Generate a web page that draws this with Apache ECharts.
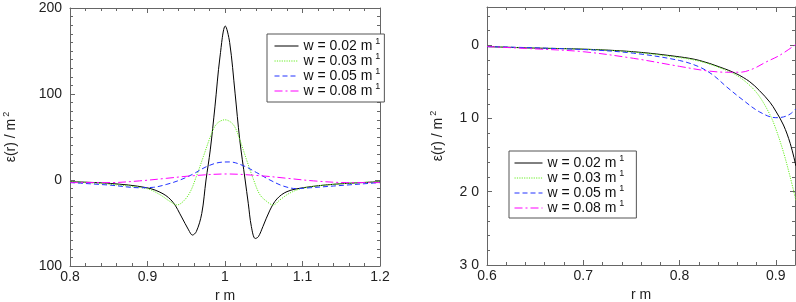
<!DOCTYPE html>
<html><head><meta charset="utf-8">
<script src="https://cdn.jsdelivr.net/npm/echarts@6/dist/echarts.min.js"></script>
<style>html,body{margin:0;padding:0;background:#fff}#c{width:796px;height:302px}</style>
</head><body><div id="c"></div>
<script>
// ---- data ----
var seriesNames = ['w = 0.02 m', 'w = 0.03 m', 'w = 0.05 m', 'w = 0.08 m'];
var leftYTicks = ['100', '0', '100', '200'];
var rightYTicks = ['3 0', '2 0', '1 0', '0'];

var leftW02 = [[0.8,-2],[0.852,-4],[0.899,-9],[0.92,-16],[0.933,-26],[0.944,-43],[0.953,-58],[0.958,-64],[0.963,-60],[0.970,-39],[0.9755,0],[0.981,35],[0.987,85],[0.9935,143],[1.0004,179],[1.006,160],[1.013,101],[1.019,47],[1.026,0],[1.030,-27],[1.034,-54],[1.039,-68],[1.043,-66],[1.049,-54],[1.058,-35],[1.067,-22],[1.080,-13.5],[1.101,-9],[1.140,-5],[1.2,-2]];
var leftW03 = [[0.8,-2],[0.852,-5],[0.899,-10],[0.916,-17],[0.929,-25],[0.938,-29],[0.946,-25],[0.955,-14],[0.963,4],[0.972,27],[0.981,50],[0.989,65],[1.0,70],[1.011,64],[1.019,47],[1.028,23],[1.037,0],[1.045,-17],[1.054,-25],[1.062,-29],[1.071,-23],[1.084,-15],[1.101,-9.5],[1.14,-5],[1.2,-2]];
var leftW05 = [[0.8,-3],[0.852,-6],[0.890,-9],[0.9075,-8.5],[0.925,-5],[0.942,0],[0.959,7],[0.976,15.5],[0.9935,20.5],[1.006,21],[1.024,16.5],[1.041,8.5],[1.058,0],[1.075,-7],[1.092,-10],[1.110,-9],[1.14,-7],[1.2,-3]];
var leftW08 = [[0.8,-3],[0.852,-3],[0.89,-1],[0.925,2],[0.959,5],[1.002,7],[1.045,5],[1.080,2],[1.114,-1],[1.157,-3],[1.2,-3]];

var rightW02 = [[0.6,-0.2],[0.648,-0.4],[0.7,-0.55],[0.752,-0.9],[0.8,-1.6],[0.821,-2.1],[0.842,-3.0],[0.859,-3.9],[0.873,-5.0],[0.883,-6.2],[0.894,-7.8],[0.9,-9.0],[0.908,-10.9],[0.915,-13.4],[0.921,-16.5]];
var rightW03 = [[0.6,-0.2],[0.648,-0.4],[0.7,-0.55],[0.752,-0.95],[0.8,-1.7],[0.821,-2.2],[0.842,-3.1],[0.859,-4.1],[0.873,-5.5],[0.883,-7.0],[0.894,-9.5],[0.9,-11.4],[0.908,-14.6],[0.915,-18.0],[0.921,-21.2]];
var rightW05 = [[0.6,-0.2],[0.7,-0.6],[0.752,-1.1],[0.8,-2.1],[0.821,-3.0],[0.835,-4.1],[0.849,-5.7],[0.866,-7.5],[0.883,-9.1],[0.9,-9.9],[0.908,-9.8],[0.915,-9.4],[0.921,-8.7]];
var rightW08 = [[0.6,-0.2],[0.648,-0.5],[0.7,-0.9],[0.752,-1.8],[0.8,-2.9],[0.828,-3.5],[0.849,-3.7],[0.863,-3.7],[0.877,-3.2],[0.890,-2.3],[0.904,-1.4],[0.921,0.1]];

// ---- styles ----
var colors = ['#000000', '#66ee22', '#2233ff', '#ff00ff'];
var dashes = ['solid', [1.2, 1.2], [5, 3], [8, 3, 2, 3]];
var FONT = 'Liberation Sans, Arial, sans-serif';
var axisCol = '#666';

function mkSeries(name, data, i, gi) {
  return {
    type: 'line', name: name, data: data, xAxisIndex: gi, yAxisIndex: gi,
    showSymbol: false, symbol: 'none', smooth: 0.35, smoothMonotone: 'none',
    lineStyle: { color: colors[i], width: 1, type: dashes[i] },
    itemStyle: { color: colors[i] }, animation: false
  };
}

function xAx(gi, min, max, pos, labels) {
  return {
    type: 'value', gridIndex: gi, min: min, max: max, interval: 0.1, position: pos,
    axisLine: { show: true, onZero: false, lineStyle: { color: axisCol, width: 1 } },
    axisTick: { show: true, inside: true, length: 5, lineStyle: { color: axisCol } },
    minorTick: { show: true, splitNumber: 5, length: 3, lineStyle: { color: axisCol } },
    splitLine: { show: false },
    axisLabel: { show: labels, color: '#222', fontFamily: FONT, fontSize: 14, margin: 4, showMaxLabel: max > 1,
      formatter: function (v) { return String(Math.round(v * 10) / 10); } },
    name: labels ? 'r m' : '', nameLocation: 'middle', nameGap: 18,
    nameTextStyle: { color: '#222', fontFamily: FONT, fontSize: 14 }
  };
}

function yAx(gi, min, max, interval, minorSplit, pos, labels, fmt, nameGap) {
  return {
    type: 'value', gridIndex: gi, min: min, max: max, interval: interval, position: pos,
    axisLine: { show: true, onZero: false, lineStyle: { color: axisCol, width: 1 } },
    axisTick: { show: true, inside: true, length: 5, lineStyle: { color: axisCol } },
    minorTick: { show: true, splitNumber: minorSplit, length: 3, lineStyle: { color: axisCol } },
    splitLine: { show: false },
    axisLabel: { show: labels, color: '#222', fontFamily: FONT, fontSize: 14, showMaxLabel: max % interval === 0, formatter: fmt },
    name: labels ? '{t|ε(r) / m}{s|2}' : '', nameLocation: 'middle', nameGap: nameGap, nameRotate: 90,
    nameTextStyle: { color: '#222', fontFamily: FONT, fontSize: 14,
      rich: { t: { fontSize: 14, lineHeight: 18, fontFamily: FONT, color: '#222' }, s: { fontSize: 9, lineHeight: 9, fontFamily: FONT, color: '#222', verticalAlign: 'top', padding: [0, 0, 0, 2] } } }
  };
}

function leftFmt(v) { var i = Math.round((v + 100) / 100); return leftYTicks[i]; }
function rightFmt(v) { var i = Math.round((v + 30) / 10); return rightYTicks[i]; }

function mkLegend(left, top, iw, pad) {
  return {
    show: true, orient: 'vertical', left: left, top: top,
    data: seriesNames, itemWidth: iw, itemHeight: 14, itemGap: -1,
    padding: pad, borderColor: '#555', borderWidth: 1, backgroundColor: '#fff',
    selectedMode: false,
    itemStyle: { opacity: 0 },
    lineStyle: { width: 1 },
    textStyle: { fontFamily: FONT, fontSize: 14, color: '#111',
      rich: { t: { fontSize: 14, lineHeight: 18, fontFamily: FONT, color: '#111' }, s: { fontSize: 9, lineHeight: 9, fontFamily: FONT, color: '#111', verticalAlign: 'top', padding: [0, 0, 0, 3] } } },
    formatter: function (n) { return '{t|' + n + '}{s|1}'; }
  };
}

var chart = echarts.init(document.getElementById('c'), null, { renderer: 'canvas' });
var option = {
  animation: false,
  backgroundColor: '#fff',
  grid: [
    { left: 70, top: 8, width: 310, height: 258, outerBoundsMode: 'none', containLabel: false },
    { left: 487, top: 7, width: 308, height: 258, outerBoundsMode: 'none', containLabel: false }
  ],
  xAxis: [
    xAx(0, 0.8, 1.2, 'bottom', true),
    xAx(1, 0.6, 0.92, 'bottom', true),
    xAx(0, 0.8, 1.2, 'top', false),
    xAx(1, 0.6, 0.92, 'top', false)
  ],
  yAxis: [
    yAx(0, -100, 200, 100, 10, 'left', true, leftFmt, 50),
    yAx(1, -30, 5.2, 10, 5, 'left', true, rightFmt, 40),
    yAx(0, -100, 200, 100, 10, 'right', false, leftFmt, 0),
    yAx(1, -30, 5.2, 10, 5, 'right', false, rightFmt, 0)
  ],
  legend: [mkLegend(267, 34, 24, [3, 4, 4, 7]), mkLegend(509, 151, 28, [3, 12, 3, 5])],
  series: [
    mkSeries(seriesNames[0], leftW02, 0, 0),
    mkSeries(seriesNames[1], leftW03, 1, 0),
    mkSeries(seriesNames[2], leftW05, 2, 0),
    mkSeries(seriesNames[3], leftW08, 3, 0),
    mkSeries(seriesNames[0], rightW02, 0, 1),
    mkSeries(seriesNames[1], rightW03, 1, 1),
    mkSeries(seriesNames[2], rightW05, 2, 1),
    mkSeries(seriesNames[3], rightW08, 3, 1)
  ]
};
chart.setOption(option);
</script></body></html>
